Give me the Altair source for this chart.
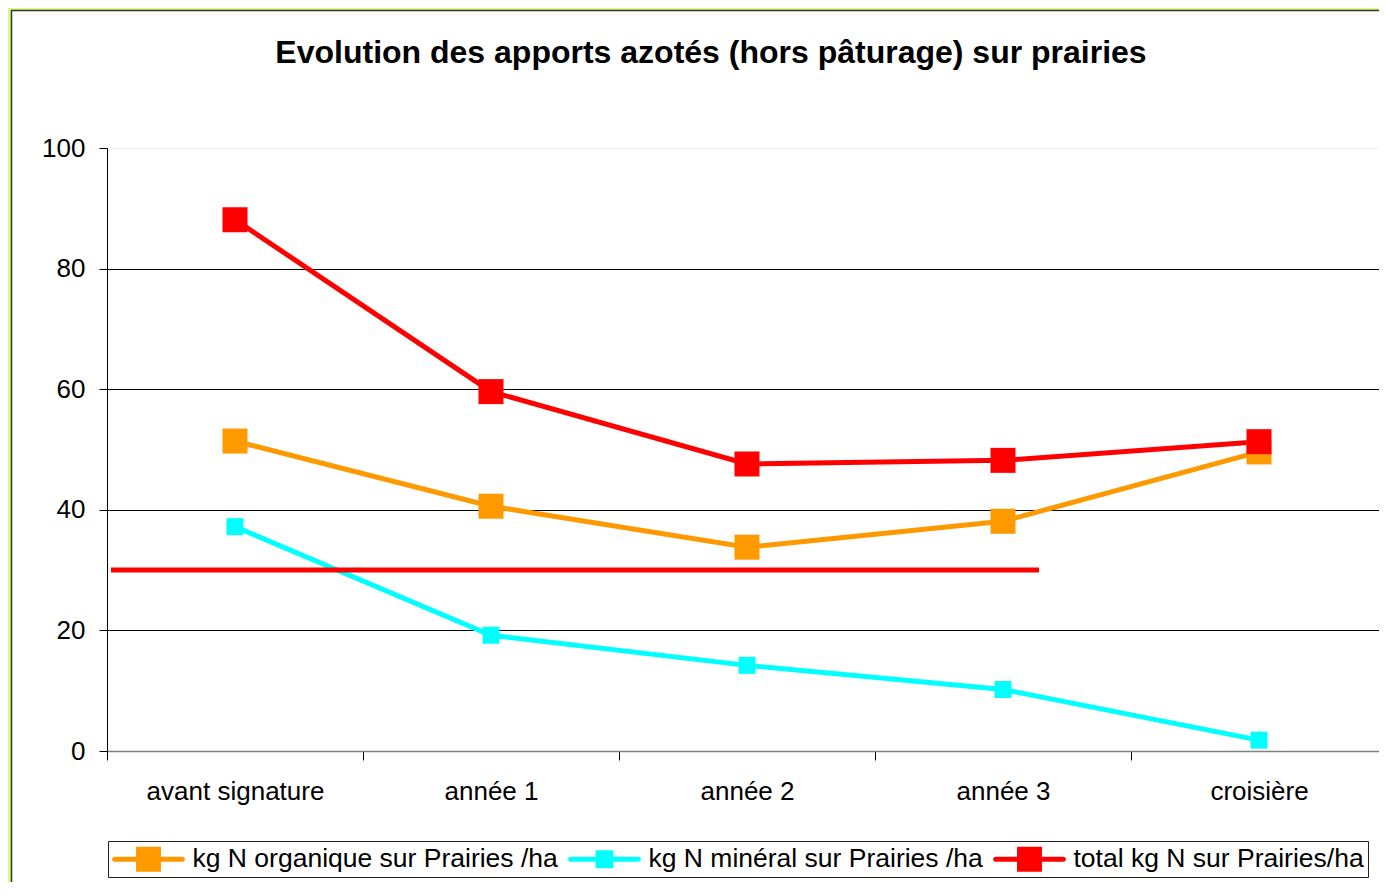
import altair as alt
import pandas as pd

categories = ["avant signature", "année 1", "année 2", "année 3", "croisière"]
series_names = [
    "kg N organique sur Prairies /ha",
    "kg N minéral sur Prairies /ha",
    "total kg N sur Prairies/ha",
]
organique = [51.4, 40.6, 33.8, 38.1, 49.6]
mineral = [37.2, 19.2, 14.2, 10.2, 1.8]
total = [88.1, 59.6, 47.6, 48.2, 51.3]
reference_value = [30]
series_colors = ["#FF9900", "#00FFFF", "#FF0000"]
marker_sizes = [625, 289, 625]
title_text = "Evolution des apports azotés (hors pâturage) sur prairies"
y_ticks = [0, 20, 40, 60, 80, 100]

FONT = "Liberation Sans"
GREEN = "#d6fc7a"

rows = []
for name, vals, sz, col in zip(series_names, [organique, mineral, total], marker_sizes, series_colors):
    for c, v in zip(categories, vals):
        rows.append({"cat": c, "value": v, "series": name, "msize": sz, "col": col})
df = pd.DataFrame(rows)

W, H = 1272, 603
RANGE_W = 1280

color_scale = alt.Scale(domain=series_names, range=series_colors)
x_enc = alt.X(
    "cat:N",
    sort=categories,
    scale=alt.Scale(domain=categories, paddingInner=0, paddingOuter=0, range=[0, RANGE_W]),
    axis=alt.Axis(
        title=None, labelFont=FONT, labelFontSize=26, labelColor="#000",
        labelPadding=18, tickBand="extent", tickSize=9, tickColor="#000",
        domainColor="#808080", domainWidth=1.5, grid=False, labelAngle=0,
    ),
)
y_enc = alt.Y(
    "value:Q",
    scale=alt.Scale(domain=[0, 100], nice=False),
    axis=alt.Axis(
        title=None, values=y_ticks, labelFont=FONT, labelFontSize=26,
        labelColor="#000", labelPadding=14, tickSize=8, tickColor="#000",
        domainColor="#000", grid=True,
        gridColor=alt.condition("datum.value == 100", alt.value("#eeeeee"), alt.value("#000000")),
        gridWidth=1,
    ),
)

one = pd.DataFrame({"k": [0]})
green_left = alt.Chart(one).mark_rect(fill=GREEN).encode(
    x=alt.value(-99), x2=alt.value(-96), y=alt.value(-140), y2=alt.value(800))
green_top = alt.Chart(one).mark_rect(fill=GREEN).encode(
    x=alt.value(-99), x2=alt.value(1300), y=alt.value(-140), y2=alt.value(-138))
frame_left = alt.Chart(one).mark_rule(color="#333333", strokeWidth=1.5).encode(
    x=alt.value(-95.5), y=alt.value(-138), y2=alt.value(800))
frame_top = alt.Chart(one).mark_rule(color="#333333", strokeWidth=1.5).encode(
    x=alt.value(-96), x2=alt.value(1300), y=alt.value(-137.5))

title = alt.Chart(pd.DataFrame({"t": [title_text]})).mark_text(
    font=FONT, fontSize=32, fontWeight="bold", color="#000",
    align="center", baseline="middle",
).encode(x=alt.value(604), y=alt.value(-95), text="t:N")

# legend symbol: line with square, in units where r = 14px
def sym(half_sq):
    return ("M-2.42,-0.18L2.42,-0.18A0.18,0.18 0 0 1 2.42,0.18L-2.42,0.18"
            "A0.18,0.18 0 0 1 -2.42,-0.18Z "
            f"M-{half_sq},-{half_sq}L{half_sq},-{half_sq}L{half_sq},{half_sq}L-{half_sq},{half_sq}Z")

big_sym = sym(0.89)
small_sym = sym(0.64)

legend = alt.Legend(
    title=None, orient="none", legendX=1, legendY=693, direction="horizontal",
    strokeColor="#222222", padding=4, labelFont=FONT, labelFontSize=26.5,
    labelColor="#000", labelLimit=0, symbolSize=784,
    symbolStrokeWidth=0, symbolOpacity=1, columnPadding=10,
    symbolOffset=22.5, labelOffset=30,
)

layers = [green_left, green_top, frame_left, frame_top, title]
for name, col in zip(series_names, series_colors):
    layers.append(
        alt.Chart(df[df["series"] == name]).mark_line(strokeWidth=5, color=col).encode(
            x=x_enc, y=y_enc,
        )
    )

squares = alt.Chart(df).mark_square(opacity=1, filled=True).encode(
    x=x_enc, y=y_enc,
    color=alt.Color("col:N", scale=None),
    size=alt.Size("msize:Q", scale=None),
)
layers.append(squares)

legend_layer = alt.Chart(df).transform_filter("false").mark_point(
    filled=True, size=784, opacity=1, strokeWidth=0
).encode(
    color=alt.Color("series:N", scale=color_scale, legend=legend),
    shape=alt.Shape("series:N", scale=alt.Scale(domain=series_names,
                                                range=[big_sym, small_sym, big_sym]),
                    legend=legend),
)
layers.append(legend_layer)

ref = alt.Chart(pd.DataFrame({"v": reference_value})).mark_rule(
    color="#FF0000", strokeWidth=5
).encode(y=alt.Y("v:Q"), x=alt.value(4), x2=alt.value(932))
layers.append(ref)

chart = alt.layer(*layers).properties(
    width=W, height=H,
    autosize=alt.AutoSizeParams(type="none"),
    padding={"left": 99, "top": 140, "right": 0, "bottom": 131},
).configure(background="white").configure_view(strokeWidth=0)

chart.save("out.html", embed_options={"renderer": "svg", "actions": False})
